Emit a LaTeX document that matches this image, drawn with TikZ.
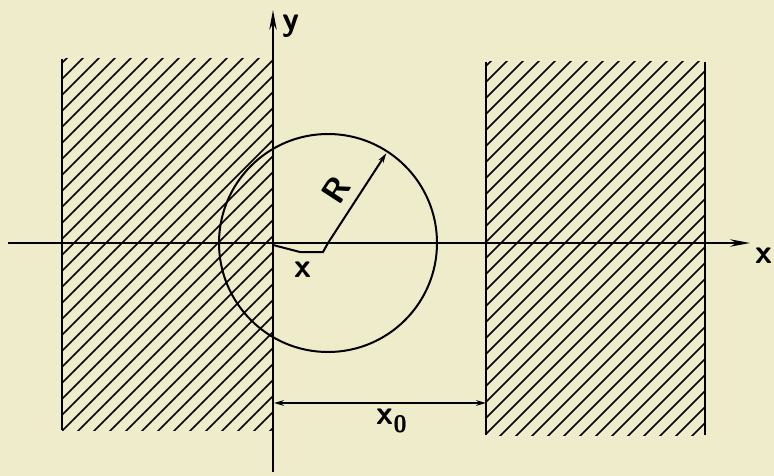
\documentclass[tikz,border=0pt]{standalone}
\usepackage{xcolor}
\definecolor{paper}{RGB}{238,236,202}
\usetikzlibrary{arrows.meta,calc}
\tikzset{
  wall/.style={line width=2.4pt},
  hatch/.style={line width=1.6pt},
  axis/.style={line width=2pt,-{Stealth[length=7mm,width=2.6mm]}},
  dim/.style={line width=1.6pt,{Stealth[length=3.5mm,width=2mm]}-{Stealth[length=3.5mm,width=2mm]}},
  lbl/.style={font=\fontsize{34}{34}\selectfont\sffamily\bfseries,inner sep=1pt},
}

\begin{document}
\begin{tikzpicture}[x=1pt,y=-1pt]
\fill[paper] (0,0) rectangle (774,476);
\useasboundingbox (0,0) rectangle (774,476);

% hatched walls
\begin{scope}
  \clip (62,59) rectangle (273,430);
  \foreach \c in {125,141,...,720} \draw[hatch] (\c,0) -- (\c-500,500);
\end{scope}
\begin{scope}
  \clip (486,62) rectangle (705,435);
  \foreach \c in {552,568,...,1150} \draw[hatch] (\c,0) -- (\c-500,500);
\end{scope}
\draw[wall] (62,59) -- (62,430);
\draw[wall] (486,62) -- (486,435);
\draw[wall] (705,62) -- (705,435);

% axes
\coordinate (O)  at (273,245);
\coordinate (xs) at (8,243);
\coordinate (xe) at (750,243);
\coordinate (ys) at (273,472);
\coordinate (ye) at (273,10);
\draw[axis] (xs) -- (xe);
\draw[axis] (ys) -- (ye);
\node[lbl] (xl) at (764,256) {x};
\node[lbl] (yl) at (291,26) {y};

% circle
\coordinate (C) at (328,243);
\draw[line width=2pt] (C) circle[radius=109pt];
\coordinate (Rt) at ($(C)+(57:107pt)$);
\draw[line width=2pt,-{Stealth[length=3.5mm,width=2mm]}] (C) -- (Rt);
\node[lbl,rotate=57] (Rl) at (336,190) {R};

% offset x
\coordinate (xa) at (300,252);
\coordinate (xb) at (323,252);
\draw[line width=2pt] (O) -- (xa) -- (xb) -- (C);
\node[lbl] (xo) at (303,270) {x};

% distance x0
\coordinate (d1) at (274,403);
\coordinate (d2) at (486,403);
\draw[dim] (d1) -- (d2);
\node[lbl] (x0) at (392,421) {x\textsubscript{0}};
\end{tikzpicture}
\end{document}
